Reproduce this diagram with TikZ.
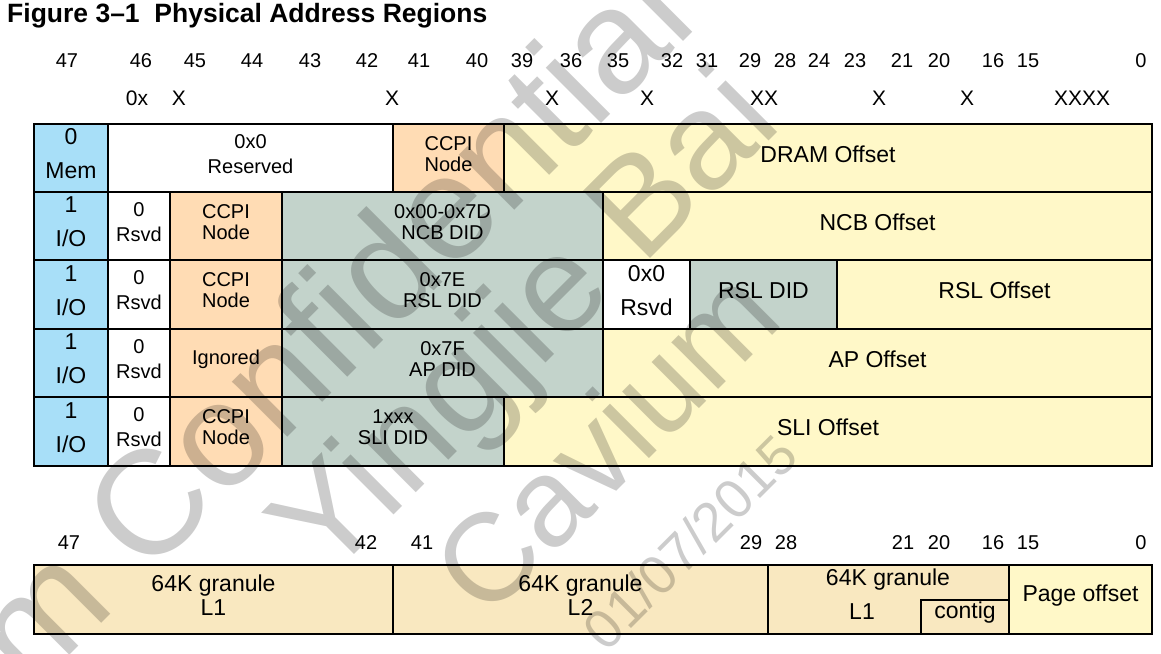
\documentclass[tikz,border=0pt]{standalone}
\usepackage{fontspec}
\setmainfont{Liberation Sans}
\usetikzlibrary{calc}

\definecolor{cblue}{HTML}{A8DFF8}
\definecolor{cpeach}{HTML}{FFDCB4}
\definecolor{cgrey}{HTML}{C3D3CB}
\definecolor{cyell}{HTML}{FFF8C8}
\definecolor{ctan}{HTML}{F9E8C0}

\newcommand\fsz[2]{\fontsize{#1}{#2}\selectfont}

% field box: name, x1, x2, y1, y2, style, text
\newcommand\pafield[7]{%
  \pgfmathsetmacro\pafx{(#2+#3)/2}%
  \pgfmathsetmacro\pafy{(#4+#5)/2}%
  \pgfmathsetmacro\pafw{#3-#2}%
  \pgfmathsetmacro\pafh{#5-#4}%
  \node[cell,#6,minimum width=\pafw pt,minimum height=\pafh pt] (#1) at (\pafx,\pafy) {};
  \node[celltext,#6] (#1-t) at ([yshift=4pt]#1.center) {#7};}

\tikzset{
  cell/.style={draw=black, line width=1.2pt, inner sep=0pt, outer sep=0pt},
  celltext/.style={inner sep=0pt, align=center, draw=none, fill=none},
  big/.style={font=\fsz{23}{34}},
  pair/.style={font=\fsz{20}{25}},
  tight/.style={font=\fsz{20}{21}},
  single/.style={font=\fsz{23}{26}},
  small/.style={font=\fsz{20}{22}},
  gran/.style={font=\fsz{23}{24}},
  bitno/.style={font=\fsz{20}{22}, inner sep=0pt},
  bitx/.style={font=\fsz{21}{22}, inner sep=0pt},
  frame/.style={draw=black, line width=2pt},
  wmark/.style={inner sep=0pt, text=black, text opacity=0.2, rotate=45},
}

\begin{document}
\begin{tikzpicture}[x=1pt, y=-1pt]
\useasboundingbox (0,0) rectangle (1161,653);
\fill[white] (0,0) rectangle (1161,653);
\clip (0,0) rectangle (1161,653);

% title
\node[anchor=west, inner sep=0pt, font=\bfseries\fsz{26.5}{28}] (title) at (7,16)
  {Figure 3–1\ \ Physical Address Regions};

% bit positions above the region table
\foreach \x/\t [count=\i] in {67/47,141/46,195/45,252/44,310/43,367/42,419/41,477/40,
  522/39,571/36,618/35,672/32,707/31,750/29,785/28,819/24,855/23,902/21,939/20,
  993/16,1028/15,1141/0}
  \node[bitno] (tb\i) at (\x,61) {\t};
\foreach \x/\t [count=\i] in {137/0x,179/X,392/X,552/X,647/X,764/XX,879/X,967/X,1082/XXXX}
  \node[bitx] (tx\i) at (\x,98) {\t};

% row 1: memory
\pafield{m1}{34}{108}{124}{192}{big,fill=cblue}{0\\Mem}
\pafield{r1}{108}{393}{124}{192}{pair,fill=white}{0x0\\Reserved}
\pafield{c1}{393}{504}{124}{192}{tight,fill=cpeach}{CCPI\\Node}
\pafield{o1}{504}{1152}{124}{192}{single,fill=cyell}{DRAM Offset}
% row 2: NCB
\pafield{m2}{34}{108}{192}{260}{big,fill=cblue}{1\\I/O}
\pafield{s2}{108}{170}{192}{260}{pair,fill=white}{0\\Rsvd}
\pafield{c2}{170}{282}{192}{260}{tight,fill=cpeach}{CCPI\\Node}
\pafield{d2}{282}{603}{192}{260}{tight,fill=cgrey}{0x00-0x7D\\NCB DID}
\pafield{o2}{603}{1152}{192}{260}{single,fill=cyell}{NCB Offset}
% row 3: RSL
\pafield{m3}{34}{108}{260}{329}{big,fill=cblue}{1\\I/O}
\pafield{s3}{108}{170}{260}{329}{pair,fill=white}{0\\Rsvd}
\pafield{c3}{170}{282}{260}{329}{tight,fill=cpeach}{CCPI\\Node}
\pafield{d3}{282}{603}{260}{329}{tight,fill=cgrey}{0x7E\\RSL DID}
\pafield{z3}{603}{690}{260}{329}{big,fill=white}{0x0\\Rsvd}
\pafield{e3}{690}{837}{260}{329}{single,fill=cgrey}{RSL DID}
\pafield{o3}{837}{1152}{260}{329}{single,fill=cyell}{RSL Offset}
% row 4: AP
\pafield{m4}{34}{108}{329}{397}{big,fill=cblue}{1\\I/O}
\pafield{s4}{108}{170}{329}{397}{pair,fill=white}{0\\Rsvd}
\pafield{c4}{170}{282}{329}{397}{small,fill=cpeach}{Ignored}
\pafield{d4}{282}{603}{329}{397}{tight,fill=cgrey}{0x7F\\AP DID}
\pafield{o4}{603}{1152}{329}{397}{single,fill=cyell}{AP Offset}
% row 5: SLI
\pafield{m5}{34}{108}{397}{466}{big,fill=cblue}{1\\I/O}
\pafield{s5}{108}{170}{397}{466}{pair,fill=white}{0\\Rsvd}
\pafield{c5}{170}{282}{397}{466}{tight,fill=cpeach}{CCPI\\Node}
\pafield{d5}{282}{504}{397}{466}{tight,fill=cgrey}{1xxx\\SLI DID}
\pafield{o5}{504}{1152}{397}{466}{single,fill=cyell}{SLI Offset}

% heavy row separators and outline
\draw[frame] (m1.south west) -- (o1.south east);
\draw[frame] (m2.south west) -- (o2.south east);
\draw[frame] (m3.south west) -- (o3.south east);
\draw[frame] (m4.south west) -- (o4.south east);
\draw[frame] (m1.north west) rectangle (o5.south east);

% bit positions above the granule table
\foreach \x/\t [count=\i] in {69/47,366/42,422/41,751/29,786/28,903/21,939/20,
  993/16,1028/15,1141/0}
  \node[bitno] (gb\i) at (\x,543) {\t};

% granule table
\pafield{g1}{34}{393}{565}{634}{gran,fill=ctan}{64K granule\\L1}
\pafield{g2}{393}{768}{565}{634}{gran,fill=ctan}{64K granule\\L2}
\pafield{g3}{768}{1009}{565}{634}{gran,fill=ctan}{}
\pafield{cg}{921}{1009}{600}{634}{single,fill=ctan}{contig}
\pafield{po}{1009}{1152}{565}{634}{single,fill=cyell}{Page offset}
\node[celltext,gran] (g3a) at (888,580) {64K granule};
\node[celltext,gran] (g3b) at (862,612) {L1};
\draw[frame] (g1.north west) rectangle (po.south east);

% watermark
\node[wmark, font=\fsz{148}{150}] (wm1) at (194,456) {Cavium Confidential};
\node[wmark, font=\fsz{138}{140}] (wm2) at (530,329) {Yingjie Bai};
\node[wmark, font=\fsz{125}{128}] (wm3) at (605,440) {Cavium};
\node[wmark, font=\fsz{55}{58}] (wm4) at (690,542) {01/07/2015};
\end{tikzpicture}
\end{document}
